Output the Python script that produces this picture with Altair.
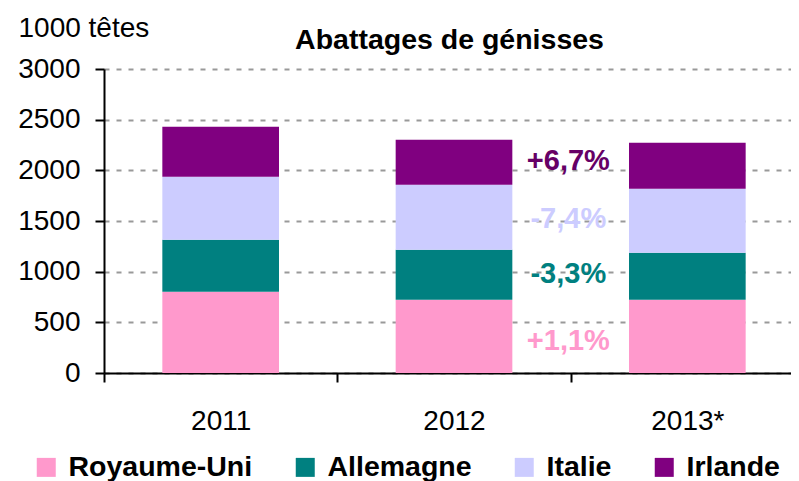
import altair as alt
import pandas as pd

years = ["2011", "2012", "2013*"]
countries = ["Royaume-Uni", "Allemagne", "Italie", "Irlande"]
royaume_uni = [802, 723, 723]
allemagne = [514, 494, 464]
italie = [621, 641, 632]
irlande = [494, 444, 453]
colors = ["#FF99CC", "#008080", "#CCCCFF", "#800080"]

var_labels = ["+1,1%", "-3,3%", "-7,4%", "+6,7%"]
var_colors = ["#FF99CC", "#008080", "#CCCCFF", "#660066"]
var_y = [230, 891, 1434, 2006]

series = [royaume_uni, allemagne, italie, irlande]
rows = []
for i, (c, vals) in enumerate(zip(countries, series)):
    for y, v in zip(years, vals):
        rows.append({"annee": y, "pays": c, "valeur": v, "ordre": i})
df = pd.DataFrame(rows)

lab = pd.DataFrame({
    "annee": ["2013*"] * len(var_labels),
    "txt": var_labels,
    "col": var_colors,
    "ypos": var_y,
})

FONT = "Liberation Sans"
FS = 28

x_scale = alt.Scale(paddingInner=0, paddingOuter=0, range=[0, 700])

x_enc = alt.X(
    "annee:N",
    sort=years,
    scale=x_scale,
    axis=alt.Axis(
        title=None, labelAngle=0, tickBand="extent", tickSize=9, tickWidth=2,
        tickColor="black", domainColor="black", domainWidth=2,
        labelFontSize=FS, labelColor="black", labelPadding=25, labelFont=FONT,
        grid=False,
    ),
)

bars = alt.Chart(df).mark_bar(width=alt.RelativeBandSize(0.5)).encode(
    x=x_enc,
    y=alt.Y(
        "valeur:Q",
        stack="zero",
        scale=alt.Scale(domain=[0, 3000], nice=False),
        axis=alt.Axis(
            values=[0, 500, 1000, 1500, 2000, 2500, 3000], format="d",
            title="1000 têtes", titleAngle=0, titleAlign="left",
            titleBaseline="alphabetic", titleX=-86, titleY=-33,
            titleFontSize=FS, titleFontWeight="normal", titleColor="black",
            titleFont=FONT,
            labelFontSize=FS, labelColor="black", labelPadding=15, labelFont=FONT,
            tickSize=9, tickWidth=2, tickColor="black",
            domainColor="black", domainWidth=2,
            grid=True, gridDash=[5, 7], gridColor="#999999", gridWidth=2,
        ),
    ),
    color=alt.Color(
        "pays:N",
        scale=alt.Scale(domain=countries, range=colors),
        legend=alt.Legend(
            title=None, orient="none", direction="horizontal", columns=4,
            legendX=-72, legendY=384,
            symbolType="square", symbolSize=361, symbolStrokeWidth=0,
            symbolOpacity=1, labelFontSize=28.5, labelFontWeight="bold",
            labelFont=FONT, labelColor="black", labelOffset=8,
            labelLimit=0, columnPadding=38,
        ),
    ),
    order=alt.Order("ordre:Q", sort="ascending"),
)

texts = alt.Chart(lab).mark_text(
    fontSize=29, fontWeight="bold", font=FONT, baseline="alphabetic",
    align="center", dx=-119,
).encode(
    x=alt.X("annee:N", sort=years, scale=x_scale),
    y=alt.Y("ypos:Q"),
    text="txt:N",
    fill=alt.Fill("col:N", scale=None, legend=None),
)

chart = alt.layer(bars, texts).properties(
    width=687,
    height=304,
    autosize=alt.AutoSizeParams(type="none"),
    padding={"left": 96, "top": 61, "right": 0, "bottom": 108},
    title=alt.TitleParams(
        "Abattages de génisses", fontSize=28.5, fontWeight="bold", font=FONT,
        color="black", anchor="middle", dx=2, dy=67, baseline="alphabetic",
    ),
).configure_view(stroke=None)

chart.save("out.html", embed_options={"renderer": "svg", "actions": False})
